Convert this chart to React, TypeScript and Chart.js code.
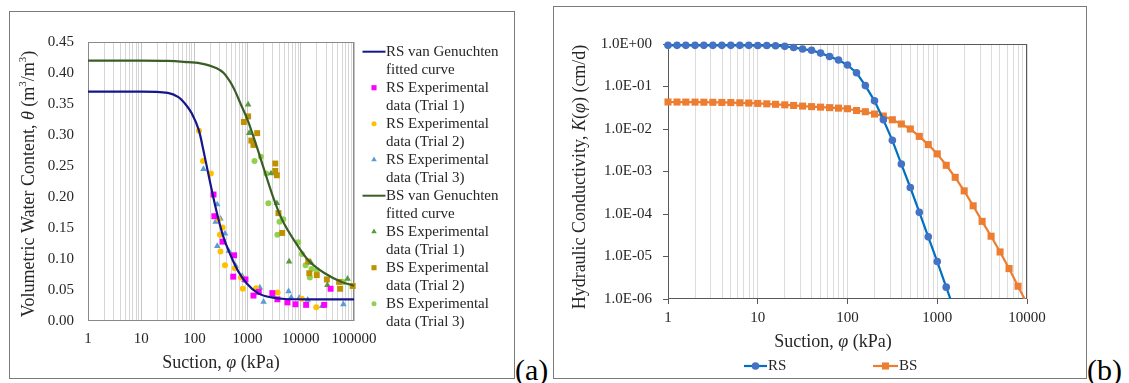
import React, { useEffect, useRef } from "react";
import { Chart, registerables } from "chart.js";

Chart.register(...registerables);

const FONT = "'Liberation Serif', 'Times New Roman', serif";
const TXT = "#262626";

// ---------------- (a) Soil-water retention ----------------
const suctionLabelsA = ["1", "10", "100", "1000", "10000", "100000"];
const suctionMajorsA = [1, 10, 100, 1000, 10000, 100000];

const rsFitSuction = [1, 10, 31.6, 50.1, 66.1, 89.1, 122, 148, 178, 226, 282, 347, 468, 668, 955, 1585, 2818, 5012, 19953, 100000];
const rsFitTheta = [0.37, 0.37, 0.368, 0.361, 0.351, 0.335, 0.307, 0.275, 0.242, 0.2, 0.165, 0.137, 0.108, 0.08, 0.061, 0.0446, 0.038, 0.0355, 0.035, 0.035];

const bsFitSuction = [1, 10, 31.6, 63.1, 129, 263, 355, 468, 575, 724, 1023, 1202, 1585, 2138, 3162, 4365, 7762, 13804, 28184, 58884, 100000];
const bsFitTheta = [0.42, 0.42, 0.4195, 0.418, 0.4156, 0.4076, 0.4, 0.386, 0.372, 0.352, 0.322, 0.305, 0.274, 0.239, 0.195, 0.165, 0.128, 0.098, 0.077, 0.063, 0.057];

const rsT1Suction = [229, 237, 339, 556, 537, 912, 1288, 1622, 2917, 3631, 5623, 7943, 12589, 27542, 36308];
const rsT1Theta = [0.204, 0.169, 0.128, 0.106, 0.0715, 0.067, 0.041, 0.047, 0.045, 0.035, 0.03, 0.027, 0.026, 0.026, 0.052];

const rsT2Suction = [122, 145, 204, 282, 339, 302, 309, 376, 575, 750, 813, 1445, 3673, 10471, 19498];
const rsT2Theta = [0.307, 0.258, 0.238, 0.164, 0.151, 0.139, 0.112, 0.09, 0.085, 0.07, 0.052, 0.053, 0.046, 0.036, 0.022];

const rsT3Suction = [148, 269, 251, 309, 376, 269, 442, 596, 794, 871, 1698, 1995, 3020, 5888, 6607, 9333, 13490, 25119, 63096];
const rsT3Theta = [0.245, 0.188, 0.16, 0.165, 0.141, 0.121, 0.113, 0.089, 0.0725, 0.066, 0.054, 0.031, 0.04, 0.048, 0.038, 0.037, 0.034, 0.024, 0.027];

const bsT1Suction = [1023, 1072, 2754, 3548, 6026, 15488, 31623, 75858];
const bsT1Theta = [0.349, 0.303, 0.238, 0.19, 0.096, 0.094, 0.058, 0.068];

const bsT2Suction = [1023, 851, 1514, 1175, 1288, 3311, 3311, 3548, 3802, 4467, 13804, 14454, 19953, 30903, 52481, 54954, 94406];
const bsT2Theta = [0.33, 0.321, 0.303, 0.291, 0.284, 0.254, 0.242, 0.235, 0.174, 0.142, 0.096, 0.077, 0.074, 0.067, 0.063, 0.052, 0.0565];

const bsT3Suction = [1778, 1349, 2239, 2455, 3981, 4677, 3631, 8913, 10471, 12303, 15849, 14791, 19953, 63096];
const bsT3Theta = [0.265, 0.258, 0.238, 0.19, 0.16, 0.164, 0.139, 0.127, 0.108, 0.09, 0.084, 0.07, 0.082, 0.063];

const legendA = [
  ["RS van Genuchten", "fitted curve"],
  ["RS Experimental", "data (Trial 1)"],
  ["RS Experimental", "data (Trial 2)"],
  ["RS Experimental", "data (Trial 3)"],
  ["BS van Genuchten", "fitted curve"],
  ["BS Experimental", "data (Trial 1)"],
  ["BS Experimental", "data (Trial 2)"],
  ["BS Experimental", "data (Trial 3)"],
];

// ---------------- (b) Hydraulic conductivity ----------------
const suctionLabelsB = ["1", "10", "100", "1000", "10000"];
const suctionMajorsB = [1, 10, 100, 1000, 10000];
const kMajors = [1, 0.1, 0.01, 0.001, 0.0001, 0.00001, 0.000001];
const kLabels = ["1.0E+00", "1.0E-01", "1.0E-02", "1.0E-03", "1.0E-04", "1.0E-05", "1.0E-06"];

const kSuction = [1, 1.26, 1.58, 2, 2.51, 3.16, 3.98, 5.01, 6.31, 7.94, 10, 12.6, 15.8, 20, 25.1, 31.6, 39.8, 50.1, 63.1, 79.4, 100, 126, 158, 200, 251, 316, 398, 501, 631, 794, 1000, 1259, 1585, 1995, 2512, 3162, 3981, 5012, 6310, 7943, 10000];
const rsK = [0.93, 0.93, 0.93, 0.93, 0.93, 0.93, 0.93, 0.93, 0.93, 0.93, 0.92, 0.92, 0.91, 0.88, 0.83, 0.76, 0.71, 0.61, 0.51, 0.42, 0.32, 0.21, 0.105, 0.046, 0.0165, 0.0054, 0.0015, 0.00042, 0.00011, 0.000029, 0.0000076, 0.0000019, 0.00000048];
const bsK = [0.0432, 0.0431, 0.043, 0.0429, 0.0427, 0.0425, 0.0422, 0.0419, 0.0414, 0.0408, 0.04, 0.0391, 0.0381, 0.037, 0.0358, 0.0346, 0.0336, 0.0327, 0.0318, 0.031, 0.03, 0.0272, 0.0255, 0.0225, 0.0202, 0.0165, 0.0131, 0.01, 0.0067, 0.0043, 0.0026, 0.0014, 0.00073, 0.00035, 0.000156, 0.000067, 0.00003, 0.0000128, 0.0000052, 0.000002, 0.00000078];

// ---------------- helpers ----------------
type Seg = { t: string; it?: boolean; sup?: boolean };

const pts = (xs: number[], ys: number[]) => xs.map((x, i) => ({ x, y: ys[i] })).filter((p) => p.y !== undefined);

const sameLog = (a: number, b: number) => Math.abs(Math.log10(a) - Math.log10(b)) < 1e-6;

function logTickValues(majors: number[]) {
  const out: number[] = [];
  majors.forEach((m, i) => {
    out.push(m);
    if (i < majors.length - 1) for (let k = 2; k <= 9; k++) out.push(m * k);
  });
  return out;
}

function drawRich(ctx: CanvasRenderingContext2D, segs: Seg[], cx: number, cy: number, size: number, rotate: boolean) {
  ctx.save();
  ctx.translate(cx, cy);
  if (rotate) ctx.rotate(-Math.PI / 2);
  const fontFor = (s: Seg) => `${s.it ? "italic " : ""}${s.sup ? Math.round(size * 0.62) : size}px ${FONT}`;
  let total = 0;
  const widths = segs.map((s) => {
    ctx.font = fontFor(s);
    const w = ctx.measureText(s.t).width;
    total += w;
    return w;
  });
  let x = -total / 2;
  ctx.fillStyle = TXT;
  ctx.textBaseline = "middle";
  ctx.textAlign = "left";
  segs.forEach((s, i) => {
    ctx.font = fontFor(s);
    ctx.fillText(s.t, x, s.sup ? -size * 0.3 : 0);
    x += widths[i];
  });
  ctx.restore();
}

function drawMarker(ctx: CanvasRenderingContext2D, style: string, x: number, y: number, r: number, color: string) {
  ctx.save();
  ctx.fillStyle = color;
  ctx.beginPath();
  if (style === "rect") {
    const s = r * Math.SQRT1_2;
    ctx.rect(x - s, y - s, 2 * s, 2 * s);
  } else if (style === "triangle") {
    let a = 0;
    ctx.moveTo(x + Math.sin(a) * r, y - Math.cos(a) * r);
    a += (2 * Math.PI) / 3;
    ctx.lineTo(x + Math.sin(a) * r, y - Math.cos(a) * r);
    a += (2 * Math.PI) / 3;
    ctx.lineTo(x + Math.sin(a) * r, y - Math.cos(a) * r);
    ctx.closePath();
  } else {
    ctx.arc(x, y, r, 0, Math.PI * 2);
  }
  ctx.fill();
  ctx.restore();
}

const frame = (color: string) => ({
  id: "frame",
  beforeDatasetsDraw(chart: any) {
    const { ctx, chartArea: a } = chart;
    ctx.save();
    ctx.strokeStyle = color;
    ctx.lineWidth = 1;
    ctx.strokeRect(Math.round(a.left) + 0.5, Math.round(a.top) + 0.5, Math.round(a.right - a.left) - 1, Math.round(a.bottom - a.top) - 1);
    ctx.restore();
  },
});

const tickFont = { family: FONT, size: 15 };

// ---------------- chart configs ----------------
function configA(): any {
  const line = (label: string, xs: number[], ys: number[], color: string) => ({
    label, data: pts(xs, ys), showLine: true, borderColor: color, backgroundColor: color,
    borderWidth: 2.2, pointRadius: 0, cubicInterpolationMode: "monotone", clip: 6,
  });
  const scat = (label: string, xs: number[], ys: number[], color: string, style: string, r: number) => ({
    label, data: pts(xs, ys), showLine: false, backgroundColor: color, borderColor: color,
    pointStyle: style, pointRadius: r, pointBorderWidth: 0, clip: 8,
  });
  const datasets = [
    line("RS van Genuchten fitted curve", rsFitSuction, rsFitTheta, "#16168a"),
    scat("RS Experimental data (Trial 1)", rsT1Suction, rsT1Theta, "#ff00ff", "rect", 4.2),
    scat("RS Experimental data (Trial 2)", rsT2Suction, rsT2Theta, "#ffc000", "circle", 3),
    scat("RS Experimental data (Trial 3)", rsT3Suction, rsT3Theta, "#5b9bd5", "triangle", 3.8),
    line("BS van Genuchten fitted curve", bsFitSuction, bsFitTheta, "#3b5e26"),
    scat("BS Experimental data (Trial 1)", bsT1Suction, bsT1Theta, "#5a9a3a", "triangle", 3.8),
    scat("BS Experimental data (Trial 2)", bsT2Suction, bsT2Theta, "#bf9000", "rect", 4.2),
    scat("BS Experimental data (Trial 3)", bsT3Suction, bsT3Theta, "#92d050", "circle", 3),
  ];
  const legendStyles = ["line", "rect", "circle", "triangle", "line", "triangle", "rect", "circle"];
  const legendPlugin = {
    id: "legendA",
    afterDraw(chart: any) {
      const ctx = chart.ctx;
      chart.data.datasets.forEach((ds: any, i: number) => {
        const y1 = 39.7 + i * 36;
        const st = legendStyles[i];
        if (st === "line") {
          ctx.save();
          ctx.strokeStyle = ds.borderColor;
          ctx.lineWidth = 2;
          ctx.beginPath();
          ctx.moveTo(352.5, y1);
          ctx.lineTo(375.5, y1);
          ctx.stroke();
          ctx.restore();
        } else {
          drawMarker(ctx, st, 364, y1, st === "rect" ? 3.6 : st === "triangle" ? 3.2 : 2.5, ds.backgroundColor);
        }
        ctx.save();
        ctx.font = `15px ${FONT}`;
        ctx.fillStyle = TXT;
        ctx.textBaseline = "middle";
        ctx.textAlign = "left";
        ctx.fillText(legendA[i][0], 376, y1);
        ctx.fillText(legendA[i][1], 376, y1 + 18);
        ctx.restore();
      });
      drawRich(ctx, [
        { t: "Volumetric Water Content, " }, { t: "θ", it: true }, { t: " (m" }, { t: "3", sup: true },
        { t: "/m" }, { t: "3", sup: true }, { t: ")" },
      ], 19, 172, 18, true);
      drawRich(ctx, [{ t: "Suction, " }, { t: "φ", it: true }, { t: " (kPa)" }], 211, 351, 18, false);
    },
  };
  return {
    type: "scatter",
    data: { datasets },
    options: {
      responsive: false, animation: false, devicePixelRatio: 1,
      layout: { padding: { top: 30, right: 160, left: 0, bottom: 0 } },
      plugins: { legend: { display: false }, tooltip: { enabled: false } },
      scales: {
        x: {
          type: "logarithmic", min: 1, max: 100000,
          afterBuildTicks: (s: any) => { s.ticks = logTickValues(suctionMajorsA).map((v) => ({ value: v })); },
          afterFit: (s: any) => { s.height = 57; },
          ticks: {
            autoSkip: false, maxRotation: 0, padding: 9, font: tickFont, color: TXT,
            callback: (v: number) => { const i = suctionMajorsA.findIndex((m) => sameLog(m, v)); return i >= 0 ? suctionLabelsA[i] : ""; },
          },
          grid: { color: (c: any) => (c.tick && suctionMajorsA.some((m) => sameLog(m, c.tick.value)) ? "#c4c4c4" : "#d6d6d6"), drawTicks: false },
          border: { display: false },
        },
        y: {
          type: "linear", min: 0, max: 0.45,
          afterFit: (s: any) => { s.width = 78; },
          ticks: { stepSize: 0.05, padding: 14, font: tickFont, color: TXT, callback: (v: number) => Number(v).toFixed(2) },
          grid: { display: false, drawTicks: false },
          border: { display: false },
        },
      },
    },
    plugins: [frame("#8a8a8a"), legendPlugin],
  };
}

function configB(): any {
  const datasets = [
    {
      label: "RS", data: pts(kSuction, rsK), showLine: true, borderColor: "#0070c0", backgroundColor: "#4472c4",
      borderWidth: 2.2, pointStyle: "circle", pointRadius: 3.8, pointBorderWidth: 0,
      clip: { left: 8, top: 8, right: 8, bottom: 0 },
    },
    {
      label: "BS", data: pts(kSuction, bsK), showLine: true, borderColor: "#ed7d31", backgroundColor: "#ed7d31",
      borderWidth: 2.2, pointStyle: "rect", pointRadius: 5, pointBorderWidth: 0,
      clip: { left: 8, top: 8, right: 8, bottom: 0 },
    },
  ];
  const legendPlugin = {
    id: "legendB",
    afterDraw(chart: any) {
      const ctx = chart.ctx;
      const xs = [[190, 213], [319, 344]];
      const y = 359;
      chart.data.datasets.forEach((ds: any, i: number) => {
        const [x0, x1] = xs[i];
        ctx.save();
        ctx.strokeStyle = ds.borderColor;
        ctx.lineWidth = 2.2;
        ctx.beginPath();
        ctx.moveTo(x0, y);
        ctx.lineTo(x1, y);
        ctx.stroke();
        ctx.restore();
        drawMarker(ctx, ds.pointStyle, (x0 + x1) / 2, y, ds.pointRadius, ds.backgroundColor);
        ctx.save();
        ctx.font = `15px ${FONT}`;
        ctx.fillStyle = TXT;
        ctx.textBaseline = "middle";
        ctx.textAlign = "left";
        ctx.fillText(ds.label, x1 + 1, y);
        ctx.restore();
      });
      drawRich(ctx, [{ t: "Hydraulic Conductivity, " }, { t: "K", it: true }, { t: "(" }, { t: "φ", it: true }, { t: ")" }, { t: " (cm/d)" }], 26, 170, 18, true);
      drawRich(ctx, [{ t: "Suction, " }, { t: "φ", it: true }, { t: " (kPa)" }], 279, 335, 18, false);
    },
  };
  return {
    type: "scatter",
    data: { datasets },
    options: {
      responsive: false, animation: false, devicePixelRatio: 1,
      layout: { padding: { top: 37, right: 59, left: 0, bottom: 0 } },
      plugins: { legend: { display: false }, tooltip: { enabled: false } },
      scales: {
        x: {
          type: "logarithmic", min: 1, max: 10000,
          afterBuildTicks: (s: any) => { s.ticks = logTickValues(suctionMajorsB).map((v) => ({ value: v })); },
          afterFit: (s: any) => { s.height = 79; },
          ticks: {
            autoSkip: false, maxRotation: 0, padding: 5, font: tickFont, color: TXT,
            callback: (v: number) => { const i = suctionMajorsB.findIndex((m) => sameLog(m, v)); return i >= 0 ? suctionLabelsB[i] : ""; },
          },
          grid: {
            color: "#dcdcdc", drawTicks: true, tickLength: 5,
            tickColor: (c: any) => (c.tick && suctionMajorsB.some((m) => sameLog(m, c.tick.value)) ? "#595959" : "rgba(0,0,0,0)"),
          },
          border: { display: false },
        },
        y: {
          type: "logarithmic", min: 0.000001, max: 1,
          afterBuildTicks: (s: any) => { s.ticks = kMajors.map((v) => ({ value: v })); },
          afterFit: (s: any) => { s.width = 114; },
          ticks: {
            autoSkip: false, padding: 11, font: tickFont, color: TXT,
            callback: (v: number) => { const i = kMajors.findIndex((m) => sameLog(m, v)); return i >= 0 ? kLabels[i] : ""; },
          },
          grid: { display: true, drawOnChartArea: false, drawTicks: true, tickLength: 5, color: "#595959" },
          border: { display: false },
        },
      },
    },
    plugins: [frame("#595959"), legendPlugin],
  };
}

function ChartCanvas({ make, left, top, width, height }: { make: () => any; left: number; top: number; width: number; height: number }) {
  const ref = useRef<HTMLCanvasElement>(null);
  useEffect(() => {
    const chart = new Chart(ref.current as HTMLCanvasElement, make());
    return () => chart.destroy();
  }, []);
  return (
    <canvas
      ref={ref}
      width={width}
      height={height}
      style={{ position: "absolute", left, top, width, height, display: "block" }}
    />
  );
}

export default function App() {
  const panel = (left: number, top: number, w: number, h: number): React.CSSProperties => ({
    position: "absolute", left, top, width: w, height: h, boxSizing: "border-box",
    border: "1px solid #7a7a7a", background: "#fff",
  });
  const tag: React.CSSProperties = {
    position: "absolute", fontFamily: FONT, fontSize: 30, lineHeight: "30px", color: "#000", whiteSpace: "nowrap",
  };
  return (
    <div style={{ position: "absolute", left: 0, top: 0, width: 1129, height: 383, background: "#fff", overflow: "hidden" }}>
      <div style={panel(9, 11, 506, 368)} />
      <ChartCanvas make={configA} left={10} top={12} width={504} height={366} />
      <div style={{ ...tag, left: 515, top: 355 }}>(a)</div>
      <div style={panel(553, 6, 534, 373)} />
      <ChartCanvas make={configB} left={554} top={7} width={532} height={371} />
      <div style={{ ...tag, left: 1087, top: 355 }}>(b)</div>
    </div>
  );
}
